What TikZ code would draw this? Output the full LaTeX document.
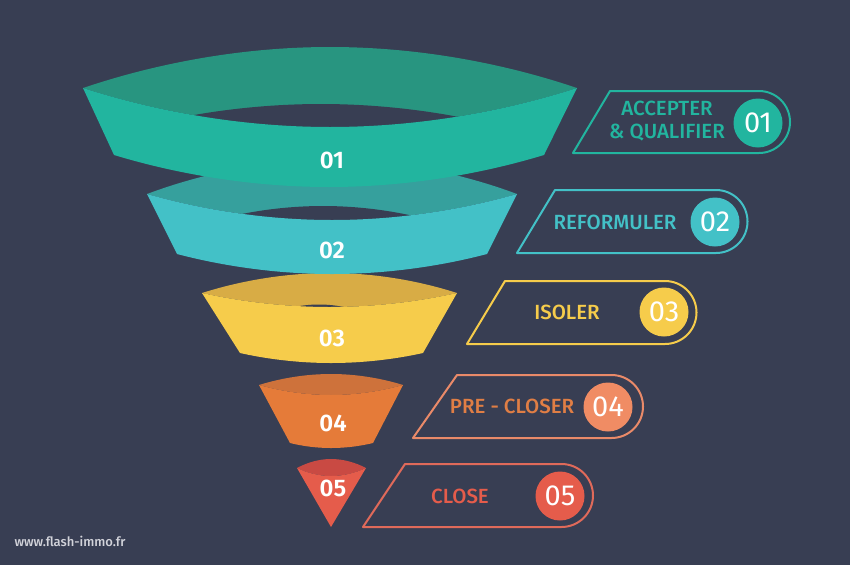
\documentclass[tikz,border=0pt]{standalone}
\usepackage{fontspec}
\setmainfont{Fira Sans}
\newfontfamily\medfont{Fira Sans Medium}
\newfontfamily\semifont{Fira Sans SemiBold}
\definecolor{bg}{HTML}{383E53}
\definecolor{fa}{HTML}{22B59F}
\definecolor{ba}{HTML}{289580}
\definecolor{fb}{HTML}{43C1C7}
\definecolor{bb}{HTML}{36A09D}
\definecolor{fc}{HTML}{F6CC4B}
\definecolor{bc}{HTML}{D8AC45}
\definecolor{fd}{HTML}{E57B39}
\definecolor{bd}{HTML}{CE723B}
\definecolor{fe}{HTML}{E55C4B}
\definecolor{be}{HTML}{C94A43}
\definecolor{ld}{HTML}{EA8A69}
\definecolor{td}{HTML}{E07E45}
\definecolor{cd}{HTML}{F08C64}
\definecolor{le}{HTML}{E06A5A}
\definecolor{wm}{HTML}{D2D3DA}
\tikzset{
  numtxt/.style={text=white, font=\semifont\fontsize{24}{24}\selectfont},
  tagline/.style={line width=2pt, line join=round},
  tagtxt/.style={font=\medfont\fontsize{20.5}{23}\selectfont, align=center},
  dot/.style={circle, inner sep=0pt, minimum size=49pt, text=white, font=\fontsize{29}{29}\selectfont}
}
\begin{document}
\begin{tikzpicture}[x=1pt,y=-1pt]
    \useasboundingbox (0,0) rectangle (850,565);
    \fill [bg] (0,0) rectangle (850,565);
    % funnel, bottom ring first
    \fill [be] (297,468) parabola bend (331,459) (366,468) parabola bend (331,476) (297,468) -- cycle;
    \fill [fe] (297,468) parabola bend (331,476) (366,468) -- (331,527) -- cycle;
    \node [numtxt] (n5) at(333,488) {05};
    \fill [bd] (259,385) parabola bend (331,374) (403,385) parabola bend (331,395) (259,385) -- cycle;
    \fill [fd] (259,385) parabola bend (331,395) (403,385) -- (373,443) parabola bend (331,448) (290,443) -- cycle;
    \node [numtxt] (n4) at(333,423) {04};
    \fill [bc] (202,293) parabola bend (330,273) (457,293) parabola bend (330,307) (202,293) -- cycle;
    \fill [bg] (282,310) parabola bend (319,304.5) (356,310) parabola bend (319,318) (282,310) -- cycle;
    \fill [fc] (202,293) parabola bend (330,307) (457,293) -- (423,353) parabola bend (331,363) (240,353) -- cycle;
    \node [numtxt] (n3) at(332,338) {03};
    \fill [bb] (147,194) parabola bend (332,160) (517,194) parabola bend (332,220) (147,194) -- cycle;
    \fill [bg] (228,217) parabola bend (323,206) (418,217) parabola bend (323,235) (228,217) -- cycle;
    \fill [fb] (147,194) parabola bend (332,220) (517,194) -- (487,254) parabola bend (332,274) (177,254) -- cycle;
    \node [numtxt] (n2) at(332,250) {02};
    \fill [ba] (83,88) parabola bend (330,47) (577,88) parabola bend (330,127) (83,88) -- cycle;
    \fill [bg] (178,118) parabola bend (321,104) (464,118) parabola bend (321,140) (178,118) -- cycle;
    \fill [fa] (83,88) parabola bend (330,127) (577,88) -- (544,155) parabola bend (329,187) (114,155) -- cycle;
    \node [numtxt] (n1) at(332,160) {01};
    % tags
    \draw [tagline, fa] (610,91) -- (759,91) arc [start angle=-90, end angle=90, radius=31] -- (573,153) -- cycle;
    \node [tagtxt, text=fa] (t1) at(667,121.5) {ACCEPTER\\\& QUALIFIER};
    \node [dot, fill=fa] (c1) at(758,123) {01};
    \draw [tagline, fb] (555,190) -- (716,190) arc [start angle=-90, end angle=90, radius=31.5] -- (517,253) -- cycle;
    \node [tagtxt, text=fb] (t2) at(615,222) {REFORMULER};
    \node [dot, fill=fb] (c2) at(715,222) {02};
    \draw [tagline, fc] (505,281) -- (665,281) arc [start angle=-90, end angle=90, radius=31.5] -- (467,344) -- cycle;
    \node [tagtxt, text=fc] (t3) at(567,312) {ISOLER};
    \node [dot, fill=fc] (c3) at(664,312) {03};
    \draw [tagline, ld] (457,375) -- (611.5,375) arc [start angle=-90, end angle=90, radius=31.5] -- (413,438) -- cycle;
    \node [tagtxt, text=td] (t4) at(512,406) {PRE - CLOSER};
    \node [dot, fill=cd] (c4) at(608,407) {04};
    \draw [tagline, le] (405,464) -- (561.5,464) arc [start angle=-90, end angle=90, radius=31.5] -- (363,527) -- cycle;
    \node [tagtxt, text=fe] (t5) at(460,496) {CLOSE};
    \node [dot, fill=fe] (c5) at(560,496) {05};
    \node [text=wm, font=\medfont\fontsize{13}{13}\selectfont] (w) at(70,541) {www.flash-immo.fr};
\end{tikzpicture}
\end{document}
